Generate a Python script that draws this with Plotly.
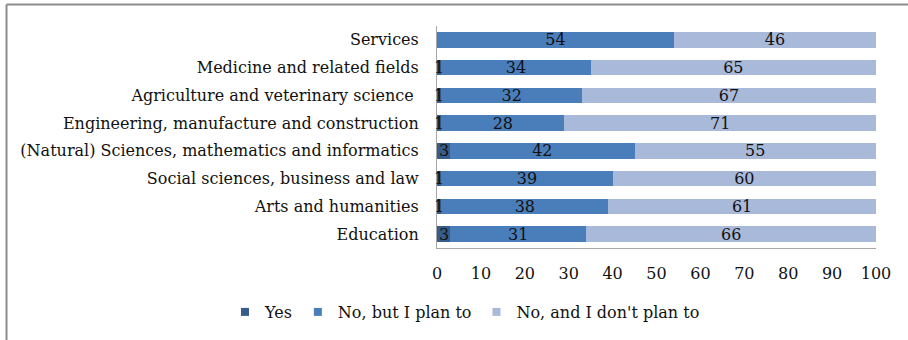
import plotly.graph_objects as go

# Survey results by field of study (percent)
categories = [
    "Services",
    "Medicine and related fields",
    "Agriculture and veterinary science ",
    "Engineering, manufacture and construction",
    "(Natural) Sciences, mathematics and informatics",
    "Social sciences, business and law",
    "Arts and humanities",
    "Education",
]
yes = [0, 1, 1, 1, 3, 1, 1, 3]
no_plan = [54, 34, 32, 28, 42, 39, 38, 31]
no_noplan = [46, 65, 67, 71, 55, 60, 61, 66]
series_names = ["Yes", "No, but I plan to", "No, and I don't plan to"]
x_ticks = [0, 10, 20, 30, 40, 50, 60, 70, 80, 90, 100]

colors = ["#385d8a", "#4a7ebb", "#a8b9d9"]
FONT = "DejaVu Serif"
FS = 16
TXT = "#111111"
W, H = 908, 340
ML, MR, MT, MB = 437, 32, 26, 92
PW, PH = W - ML - MR, H - MT - MB

fig = go.Figure()
for i, (name, vals, col) in enumerate(zip(series_names, [yes, no_plan, no_noplan], colors)):
    narrow = i == 0
    fig.add_trace(go.Bar(
        y=categories, x=vals, name=name, orientation="h",
        marker=dict(color=col, line=dict(width=0)),
        text=None if narrow else [str(v) if v else "" for v in vals],
        textposition="none" if narrow else "inside",
        insidetextanchor="middle", textangle=0,
        insidetextfont=dict(family=FONT, size=FS, color=TXT),
        constraintext="none", cliponaxis=False,
        showlegend=False, hoverinfo="skip",
    ))
    # small square legend key
    fig.add_trace(go.Scatter(
        x=[None], y=[None], mode="markers", name=name,
        marker=dict(symbol="square", size=8, color=col),
        showlegend=True,
    ))

# labels for the thin "Yes" segments, centred on each segment and allowed to overflow
for cat, v in zip(categories, yes):
    if v:
        fig.add_annotation(x=v / 2, y=cat, xref="x", yref="y", text=str(v),
                           showarrow=False, xanchor="center", yanchor="middle",
                           font=dict(family=FONT, size=FS, color=TXT))

# frame lines along the left and top of the chart area
px2x = lambda p: (p - ML) / PW
py2y = lambda p: (MT + PH - p) / PH
fig.add_shape(type="line", xref="paper", yref="paper",
              x0=px2x(6.5), x1=px2x(W + 5), y0=py2y(4.5), y1=py2y(4.5),
              line=dict(color="#8c8c8c", width=2))
fig.add_shape(type="line", xref="paper", yref="paper",
              x0=px2x(6.5), x1=px2x(6.5), y0=py2y(4.5), y1=py2y(H + 5),
              line=dict(color="#8c8c8c", width=2))

fig.update_layout(
    width=W, height=H,
    margin=dict(l=ML, r=MR, t=MT, b=MB, autoexpand=False),
    barmode="stack", bargap=0.44,
    plot_bgcolor="white", paper_bgcolor="white",
    font=dict(family=FONT, size=FS, color=TXT),
    uniformtext=dict(minsize=FS, mode="show"),
    showlegend=True,
    legend=dict(orientation="h", xref="paper", yref="paper",
                x=px2x(225), y=py2y(312), xanchor="left", yanchor="middle",
                traceorder="normal",
                font=dict(family=FONT, size=FS, color=TXT),
                itemwidth=30, tracegroupgap=0),
    xaxis=dict(range=[0, 100], tickvals=x_ticks, ticktext=[str(t) for t in x_ticks],
               showgrid=False, zeroline=False, showline=True,
               linecolor="#a6a6a6", linewidth=1, ticks="",
               ticklabelstandoff=11,
               tickfont=dict(family=FONT, size=FS, color=TXT)),
    yaxis=dict(categoryorder="array", categoryarray=categories[::-1],
               range=[-0.5, len(categories) - 0.5],
               showgrid=False, zeroline=False, showline=True,
               linecolor="#a6a6a6", linewidth=1, ticks="",
               ticklabelstandoff=14,
               tickfont=dict(family=FONT, size=FS, color=TXT)),
)

fig.write_html("out.html")
